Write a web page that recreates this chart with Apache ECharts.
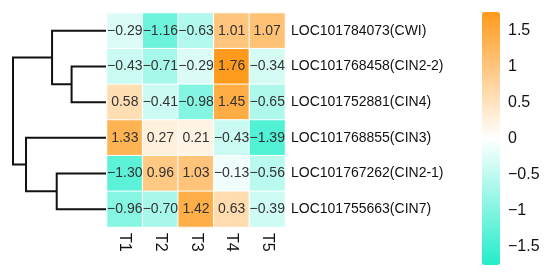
<!DOCTYPE html>
<html>
<head>
<meta charset="utf-8">
<script src="https://cdn.jsdelivr.net/npm/echarts@6/dist/echarts.min.js"></script>
<style>
  html, body { margin: 0; padding: 0; background: #fff; }
  #chart { width: 550px; height: 273px; }
</style>
</head>
<body>
<div id="chart"></div>
<script>
const samples = ['T1', 'T2', 'T3', 'T4', 'T5'];
const genes = [
  'LOC101784073(CWI)',
  'LOC101768458(CIN2-2)',
  'LOC101752881(CIN4)',
  'LOC101768855(CIN3)',
  'LOC101767262(CIN2-1)',
  'LOC101755663(CIN7)'
];
// one row per gene, columns T1..T5
const values = [
  [-0.29, -1.16, -0.63, 1.01, 1.07],
  [-0.43, -0.71, -0.29, 1.76, -0.34],
  [0.58, -0.41, -0.98, 1.45, -0.65],
  [1.33, 0.27, 0.21, -0.43, -1.39],
  [-1.30, 0.96, 1.03, -0.13, -0.56],
  [-0.96, -0.70, 1.42, 0.63, -0.39]
];
// row clustering: [child a, child b, height]; leaves are 0..5, merges numbered from 6
const rowMerges = [
  [1, 2, 0.37],
  [0, 6, 0.58],
  [4, 5, 0.53],
  [3, 8, 0.86],
  [7, 9, 1.0]
];
const colorTicks = [-1.5, -1, -0.5, 0, 0.5, 1, 1.5];
const scaleMax = 1.76;

const minus = s => String(s).replace('-', '\u2212');

const heatData = [];
values.forEach((row, r) => row.forEach((v, c) => heatData.push([c, r, v])));

// work out node positions for the dendrogram
const nodes = genes.map((g, i) => ({ y: i, h: 0 }));
const dendroData = [];
rowMerges.forEach(([a, b, h]) => {
  const na = nodes[a], nb = nodes[b];
  dendroData.push([na.y, na.h, nb.y, nb.h, h]);
  nodes.push({ y: (na.y + nb.y) / 2, h: h });
});

const chart = echarts.init(document.getElementById('chart'));
const font = 'Arial, "Liberation Sans", sans-serif';

chart.setOption({
  animation: false,
  textStyle: { fontFamily: font },
  grid: [
    { left: 13, top: 13, width: 93, height: 214 },
    { left: 107, top: 13, width: 178, height: 214 },
    { left: 482, top: 12, width: 18, height: 253 }
  ],
  xAxis: [
    { gridIndex: 0, type: 'value', min: 0, max: 1, inverse: true, show: false },
    {
      gridIndex: 1, type: 'category', data: samples,
      axisLine: { show: false }, axisTick: { show: false },
      axisLabel: { rotate: -90, fontSize: 16, color: '#111', margin: 6 }
    },
    { gridIndex: 2, type: 'value', show: false }
  ],
  yAxis: [
    { gridIndex: 0, type: 'value', min: -0.5, max: 5.5, inverse: true, show: false },
    {
      gridIndex: 1, type: 'category', data: genes, inverse: true, position: 'right',
      axisLine: { show: false }, axisTick: { show: false },
      axisLabel: { fontSize: 14, color: '#111', margin: 6 }
    },
    {
      gridIndex: 2, type: 'value', min: -scaleMax, max: scaleMax, position: 'right',
      axisLine: { show: false }, axisTick: { show: false }, splitLine: { show: false },
      axisLabel: {
        fontSize: 16, color: '#111', margin: 8,
        customValues: colorTicks,
        formatter: v => minus(v)
      }
    }
  ],
  visualMap: {
    type: 'continuous',
    min: -scaleMax,
    max: scaleMax,
    seriesIndex: 1,
    calculable: false,
    orient: 'vertical',
    left: 482,
    top: 12,
    padding: 0,
    itemWidth: 18,
    itemHeight: 253,
    text: null,
    inRange: { color: ['#22EDCA', '#FFFFFF', '#FF9A1C'] }
  },
  series: [
    {
      type: 'custom',
      xAxisIndex: 0,
      yAxisIndex: 0,
      data: dendroData,
      renderItem: (params, api) => {
        const ya = api.value(0), ha = api.value(1);
        const yb = api.value(2), hb = api.value(3);
        const h = api.value(4);
        const pts = [
          api.coord([ha, ya]),
          api.coord([h, ya]),
          api.coord([h, yb]),
          api.coord([hb, yb])
        ];
        return {
          type: 'polyline',
          shape: { points: pts },
          style: { stroke: '#111', lineWidth: 2, fill: null }
        };
      }
    },
    {
      type: 'heatmap',
      xAxisIndex: 1,
      yAxisIndex: 1,
      data: heatData,
      itemStyle: { borderColor: '#fff', borderWidth: 1 },
      label: {
        show: true,
        fontSize: 14,
        color: '#333',
        formatter: p => minus(p.value[2].toFixed(2))
      }
    }
  ]
});
</script>
</body>
</html>
